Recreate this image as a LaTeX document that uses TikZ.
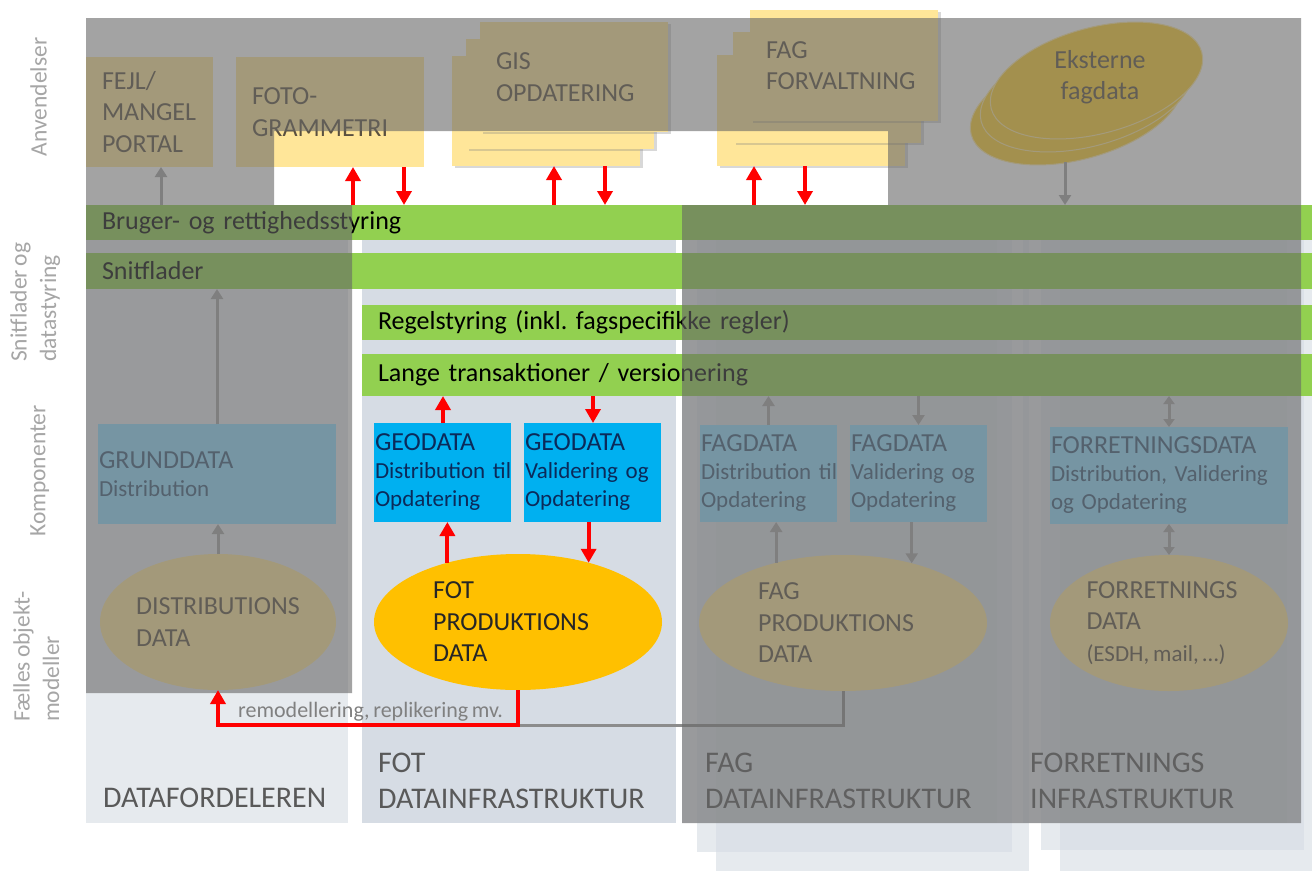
\documentclass[tikz,border=0pt]{standalone}
\usepackage{fontspec}
\setmainfont{Carlito}[WordSpace=0.75]
\usetikzlibrary{shapes.geometric,arrows.meta,shadows}
\hyphenpenalty=10000
\frenchspacing

\definecolor{appyellow}{HTML}{FFE699}
\definecolor{fotgold}{HTML}{FFC000}
\definecolor{ekstgold}{HTML}{FFD02A}
\definecolor{bargreen}{HTML}{92D050}
\definecolor{geoblue}{HTML}{00B0F0}
\definecolor{paleblue}{HTML}{8EDCFF}
\definecolor{panel}{HTML}{D6DCE4}
\definecolor{geonavy}{HTML}{0B2A5A}
\definecolor{ghostnavy}{HTML}{3A5A78}
\definecolor{darktext}{HTML}{5A5040}
\definecolor{titlegray}{HTML}{595959}
\definecolor{labelgray}{HTML}{A6A6A6}

\newcommand\comptitle[1]{{\fontsize{26}{28}\selectfont #1}}
\newcommand\padright{\rule{14pt}{0pt}}

\tikzset{
  panelbox/.style={fill=panel, fill opacity=0.6},
  veil/.style={fill=black!60, fill opacity=0.6},
  greenbar/.style={fill=bargreen, anchor=north west, inner xsep=16pt, inner ysep=0pt, outer sep=0pt, align=left, font=\fontsize{26}{31.5}\selectfont},
  appbox/.style={fill=appyellow, anchor=north west, inner xsep=16pt, inner ysep=0pt, outer sep=0pt, minimum height=110pt, align=left, text=darktext, font=\fontsize{26}{31.5}\selectfont},
  stackbox/.style={appbox, text width=156pt, drop shadow={shadow xshift=3pt, shadow yshift=-2pt, opacity=0.3}},
  ekstell/.style={ellipse, fill=ekstgold, draw=white!55!ekstgold, line width=1pt, minimum width=218pt, minimum height=106pt, inner sep=0pt, rotate=15},
  compbox/.style={anchor=north west, inner xsep=1pt, inner ysep=0pt, outer sep=0pt, align=left, font=\fontsize{23}{28}\selectfont},
  geobox/.style={compbox, fill=geoblue, text=geonavy, minimum height=99pt, text width=135pt},
  ghostbox/.style={compbox, fill=paleblue, text=ghostnavy, minimum height=97pt},
  dataell/.style={ellipse, inner sep=0pt, outer sep=0pt, minimum height=136pt, align=left, font=\fontsize{26}{31.5}\selectfont},
  ghostell/.style={dataell, fill=appyellow, text=darktext},
  coltitle/.style={anchor=north west, inner sep=0pt, align=left, text=titlegray, font=\fontsize{30}{36}\selectfont},
  sidelabel/.style={rotate=90, inner sep=0pt, align=left, text=labelgray, font=\fontsize{23.5}{29.5}\selectfont},
  redarrow/.style={draw=red, line width=4pt, -{Triangle[length=14pt,width=15pt]}},
  grayarrow/.style={draw=labelgray, line width=3pt, -{Triangle[length=10pt,width=12pt]}},
  graydouble/.style={draw=labelgray, line width=3pt, {Triangle[length=8pt,width=11pt]}-{Triangle[length=8pt,width=11pt]}},
  ghostline/.style={draw=black!45, line width=3pt}
}

\begin{document}
\begin{tikzpicture}[x=1pt, y=-1pt]

	\useasboundingbox (0,0) rectangle (1312,871);
	\fill[white] (0,0) rectangle (1312,871);

	\fill[panelbox] (86,205) rectangle (348,823);
	\fill[panel] (362,205) rectangle (676,823);
	\fill[panelbox] (716,230) rectangle (1029,871);
	\fill[panelbox] (697,215) rectangle (1012,852);
	\fill[panelbox] (682,205) rectangle (997,823);
	\fill[panelbox] (1060,230) rectangle (1312,871);
	\fill[panelbox] (1041,215) rectangle (1304,850);
	\fill[panelbox] (1023,205) rectangle (1287,823);

	\node[greenbar, minimum height=35pt, text width=1194pt] (bruger) at (86,205) {Bruger- og rettighedsstyring};
	\node[greenbar, minimum height=36pt, text width=1194pt] (snit) at (86,253) {Snitflader};
	\node[greenbar, minimum height=35pt, text width=918pt] (regel) at (362,305) {Regelstyring (inkl. fagspecifikke regler)};
	\node[greenbar, minimum height=42pt, text width=918pt] (lange) at (362,354) {Lange transaktioner / versionering};

	\node[appbox, text width=95pt] (fejl) at (86,57) {FEJL/\\MANGEL\\PORTAL};
	\node[appbox, text width=156pt] (foto) at (236,57) {FOTO-\\GRAMMETRI};

	\node[stackbox] (gis1) at (452,56) {};
	\node[stackbox] (gis2) at (466,39) {};
	\node[stackbox] (gis) at (480,22) {GIS\\OPDATERING};

	\node[stackbox, minimum height=111pt] (forv1) at (717,55) {};
	\node[stackbox, minimum height=111pt] (forv2) at (733,32) {};
	\node[stackbox, minimum height=111pt] (forv) at (750,10) {FAG\\FORVALTNING};

	\node[ekstell] (ekst1) at (1076.5,106.5) {};
	\node[ekstell] (ekst2) at (1086.5,93.5) {};
	\node[ekstell] (ekst3) at (1096.5,80.5) {};
	\node[align=center, inner sep=0pt, text=darktext, font=\fontsize{26}{31.5}\selectfont] (eksttext) at (1100,77) {Eksterne\\fagdata};
	\coordinate (ekstfoot) at (1065,162);

	\node[ghostbox, minimum height=100pt, text width=236pt] (grund) at (98,424) {\comptitle{GRUNDDATA}\\Distribution};
	\node[geobox] (geoA) at (374,423) {\comptitle{GEODATA}\\Distribution~til\\Opdatering};
	\node[geobox] (geoB) at (524,423) {\comptitle{GEODATA}\\Validering~og\\Opdatering};
	\node[ghostbox, text width=135pt] (fagA) at (700,425) {\comptitle{FAGDATA}\\Distribution~til\\Opdatering};
	\node[ghostbox, text width=135pt] (fagB) at (850,425) {\comptitle{FAGDATA}\\Validering~og\\Opdatering};
	\node[ghostbox, text width=236pt] (forret) at (1050,427) {\comptitle{FORRETNINGSDATA}\\Distribution, Validering\\og Opdatering};

	\node[ghostell, minimum width=236pt] (distdata) at (218,622) {DISTRIBUTIONS\\DATA};
	\node[dataell, fill=fotgold, text=black!85, minimum width=288pt] (fotdata) at (518,622) {FOT\\PRODUKTIONS\padright\\DATA};
	\node[ghostell, minimum width=288pt] (fagdata) at (843,623) {FAG\\PRODUKTIONS\padright\\DATA};
	\node[ghostell, minimum width=238pt] (forretdata) at (1169,623) {FORRETNINGS\padright\\DATA\\{\fontsize{23}{28}\selectfont (ESDH, mail, \dots)}};

	\draw[grayarrow] (161,0 |- bruger.north) -- (161,0 |- fejl.south);
	\draw[grayarrow] (ekstfoot) -- (ekstfoot |- bruger.north);
	\draw[grayarrow] (grund.north) -- (grund.north |- snit.south);
	\draw[grayarrow] (distdata.north) -- (distdata.north |- grund.south);
	\draw[grayarrow] (fagA.north) -- (fagA.north |- lange.south);
	\draw[grayarrow] (fagdata.138) -- (fagdata.138 |- fagA.south);
	\draw[grayarrow] (fagB.north |- lange.south) -- (fagB.north);
	\draw[grayarrow] (fagdata.41 |- fagB.south) -- (fagdata.41);
	\draw[graydouble] (forret.north |- lange.south) -- (forret.north);
	\draw[graydouble] (forret.south) -- (forretdata.north);
	\draw[ghostline] (fagdata.south) |- ([yshift=-35pt]fotdata.south);

	\node[coltitle] (tfag) at (705,753) {FAG\\DATAINFRASTRUKTUR};
	\node[coltitle] (tforr) at (1030,753) {FORRETNINGS\\INFRASTRUKTUR};

	\fill[veil] (86,18) rectangle (1301,131) (86,130) rectangle (274,206) (888,130) rectangle (1301,206)
		(86,205) rectangle (352,693) (682,205) rectangle (1301,823);

	\draw[redarrow] (353,0 |- bruger.north) -- (353,0 |- foto.south);
	\draw[redarrow] (404,0 |- foto.south) -- (404,0 |- bruger.north);
	\draw[redarrow] (554,0 |- bruger.north) -- (554,0 |- gis1.south);
	\draw[redarrow] (605,0 |- gis1.south) -- (605,0 |- bruger.north);
	\draw[redarrow] (754,0 |- bruger.north) -- (754,0 |- forv1.south);
	\draw[redarrow] (805,0 |- forv1.south) -- (805,0 |- bruger.north);
	\draw[redarrow] (443,0 |- geoA.north) -- (443,0 |- lange.south);
	\draw[redarrow] (593,0 |- lange.south) -- (593,0 |- geoB.north);
	\draw[redarrow] (fotdata.140) -- (fotdata.140 |- geoA.south);
	\draw[redarrow] (fotdata.40 |- geoB.south) -- (fotdata.40);
	\draw[redarrow] (fotdata.south) -- ([yshift=-35pt]fotdata.south) -| (distdata.south);

	\node[anchor=base west, inner sep=0pt, text=black!50, font=\fontsize{22}{26}\selectfont] (remlabel) at (238,717) {remodellering, replikering mv.};

	\node[coltitle] (tdist) at (103,788) {DATAFORDELEREN};
	\node[coltitle] (tfot) at (378,753) {FOT\\DATAINFRASTRUKTUR};

	\node[sidelabel, anchor=north] (lblanv) at (30,97) {Anvendelser};
	\node[sidelabel, anchor=north west] (lblsnit) at (10,362) {Snitflader og\\datastyring};
	\node[sidelabel, anchor=north] (lblkomp) at (30,471) {Komponenter};
	\node[sidelabel, anchor=north west] (lblobj) at (13,722) {Fælles objekt-\\modeller};

\end{tikzpicture}
\end{document}
